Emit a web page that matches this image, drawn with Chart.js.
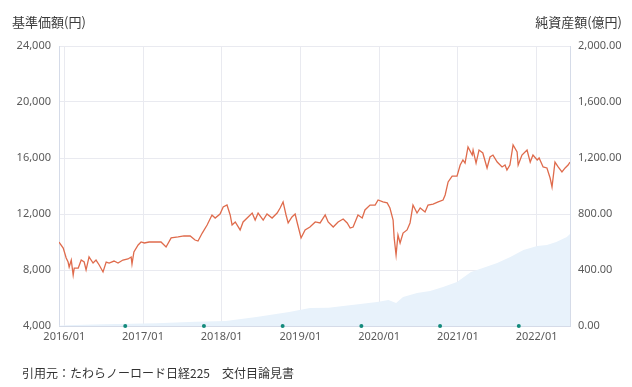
<!DOCTYPE html>
<html>
<head>
<meta charset="utf-8">
<script src="https://cdn.jsdelivr.net/npm/chart.js@4/dist/chart.umd.min.js"></script>
<style>
  html, body { margin: 0; padding: 0; background: #fff; }
  #wrap { position: relative; width: 632px; height: 387px; }
  #source {
    position: absolute; left: 22px; top: 364px;
    font: 12px "Noto Sans CJK JP", sans-serif; color: #333; white-space: pre;
  }
</style>
</head>
<body>
<div id="wrap">
  <canvas id="chart" width="632" height="387"></canvas>
  <div id="source">引用元：たわらノーロード日経225　交付目論見書</div>
</div>
<script>
// 基準価額 (円)
const priceDates = [
  '2015/12/07','2015/12/27','2016/01/10','2016/01/19','2016/01/24','2016/02/03','2016/02/12','2016/02/17',
  '2016/03/05','2016/03/19','2016/04/02','2016/04/11','2016/04/25','2016/05/13','2016/05/27','2016/06/11',
  '2016/06/29','2016/07/13','2016/07/27','2016/08/19','2016/09/07','2016/09/30','2016/10/23','2016/11/07',
  '2016/11/11','2016/11/20','2016/12/09','2016/12/23','2017/01/07','2017/01/30','2017/03/01','2017/03/24',
  '2017/04/17','2017/05/10','2017/06/12','2017/07/09','2017/08/07','2017/08/30','2017/09/13','2017/10/02',
  '2017/10/25','2017/11/17','2017/12/01','2017/12/24','2018/01/08','2018/01/26','2018/02/10','2018/02/19',
  '2018/03/03','2018/03/26','2018/04/09','2018/05/02','2018/05/21','2018/06/04','2018/06/18','2018/07/11',
  '2018/07/29','2018/08/22','2018/09/15','2018/09/29','2018/10/12','2018/10/26','2018/11/05','2018/11/23',
  '2018/12/07','2018/12/16','2019/01/04','2019/01/23','2019/02/15','2019/03/09','2019/04/01','2019/04/25',
  '2019/05/08','2019/06/01','2019/06/24','2019/07/17','2019/08/05','2019/08/19','2019/09/02','2019/09/25',
  '2019/10/14','2019/10/27','2019/11/20','2019/12/13','2019/12/27','2020/01/19','2020/02/08','2020/02/21',
  '2020/03/05','2020/03/10','2020/03/19','2020/03/28','2020/04/07','2020/04/21','2020/05/09','2020/05/23',
  '2020/06/06','2020/06/25','2020/07/09','2020/08/01','2020/08/15','2020/09/08','2020/10/01','2020/10/24',
  '2020/11/03','2020/11/17','2020/12/05','2020/12/28','2021/01/12','2021/01/25','2021/02/04','2021/02/18',
  '2021/03/07','2021/03/11','2021/03/25','2021/04/08','2021/04/26','2021/05/15','2021/05/29','2021/06/12',
  '2021/07/01','2021/07/24','2021/08/07','2021/08/16','2021/08/30','2021/09/14','2021/10/02','2021/10/07',
  '2021/10/25','2021/11/18','2021/12/02','2021/12/15','2022/01/04','2022/01/13','2022/02/01','2022/02/19',
  '2022/03/03','2022/03/12','2022/03/26','2022/04/10','2022/04/28','2022/05/12','2022/05/26','2022/06/04'
];
const priceValues = [
  10000, 9570, 8860, 8570, 8210, 8710, 7640, 8140,
  8140, 8710, 8570, 8000, 8930, 8500, 8710, 8360,
  7860, 8570, 8500, 8640, 8500, 8710, 8790, 8930,
  8430, 9290, 9790, 10000, 9930, 10000, 10000, 10000,
  9640, 10290, 10360, 10430, 10430, 10140, 10070, 10640,
  11210, 11930, 11710, 12000, 12500, 12640, 11930, 11210,
  11430, 10860, 11430, 11790, 12070, 11570, 12070, 11570,
  12000, 11710, 12070, 12430, 12860, 11930, 11360, 11790,
  12000, 11430, 10290, 10860, 11070, 11430, 11360, 11930,
  11430, 11070, 11430, 11640, 11360, 11000, 11070, 11930,
  11710, 12290, 12640, 12640, 13000, 12860, 12790, 12430,
  11570, 10290, 9070, 10500, 9930, 10640, 10860, 11360,
  12640, 12070, 12430, 12140, 12640, 12710, 12860, 13000,
  13360, 14290, 14710, 14710, 15500, 15860, 15640, 16790,
  16210, 16570, 15640, 16570, 16360, 15290, 16070, 16210,
  15710, 15360, 15500, 15140, 15500, 16930, 16430, 15500,
  16210, 16570, 15710, 16210, 15860, 16000, 15360, 15290,
  14570, 13930, 15710, 15360, 15000, 15290, 15500, 15700
];

// 純資産額 (億円)
const assetDates = [
  '2015/12/07','2016/01/10','2016/07/01','2017/03/01','2017/09/01','2018/01/20','2018/06/10','2018/11/10',
  '2019/02/15','2019/05/10','2019/07/17','2019/10/05','2019/12/22','2020/02/14','2020/03/19','2020/04/21',
  '2020/06/25','2020/08/25','2020/10/24','2020/12/28','2021/03/01','2021/04/26','2021/07/01','2021/09/01',
  '2021/11/01','2022/01/04','2022/02/19','2022/04/01','2022/05/20','2022/06/04'
];
const assetValues = [
  2, 5, 12, 20, 30, 36, 65, 100,
  129, 130, 143, 157, 171, 186, 164, 207,
  236, 250, 279, 314, 386, 414, 450, 493,
  543, 571, 579, 600, 636, 657
];

// 決算日
const settleDates = ['2016/10/10','2017/10/10','2018/10/10','2019/10/10','2020/10/10','2021/10/10'];

const yearTicks = ['2016/01','2017/01','2018/01','2019/01','2020/01','2021/01','2022/01'];

function toMonths(s) {
  const p = s.split('/').map(Number);
  return (p[0] - 2016) * 12 + (p[1] - 1) + ((p[2] || 1) - 1) / 31;
}

const priceData = priceDates.map((d, i) => ({ x: toMonths(d), y: priceValues[i] }));
const assetData = assetDates.map((d, i) => ({ x: toMonths(d), y: assetValues[i] }));
const settleData = settleDates.map(d => ({ x: toMonths(d), y: 4000 }));

const tickFont = { family: '"Noto Sans", sans-serif', size: 11 };

const titlePlugin = {
  id: 'axisTitles',
  afterDraw(chart) {
    const c = chart.ctx;
    c.save();
    c.font = '13px "Noto Sans CJK JP", sans-serif';
    c.fillStyle = '#3a3a3a';
    c.textBaseline = 'middle';
    c.textAlign = 'left';
    c.fillText('基準価額(円)', 12, 22);
    c.textAlign = 'right';
    c.fillText('純資産額(億円)', 622, 22);
    c.restore();
  }
};

new Chart(document.getElementById('chart'), {
  type: 'line',
  data: {
    datasets: [
      {
        label: '決算日',
        data: settleData,
        showLine: false,
        pointRadius: 2,
        pointBackgroundColor: '#138a7c',
        pointBorderWidth: 0,
        clip: false,
        order: 0
      },
      {
        label: '基準価額',
        data: priceData,
        borderColor: '#df6b4c',
        borderWidth: 1.3,
        pointRadius: 0,
        tension: 0,
        order: 1
      },
      {
        label: '純資産額',
        data: assetData,
        yAxisID: 'y1',
        fill: 'origin',
        backgroundColor: '#e8f2fb',
        borderWidth: 0,
        pointRadius: 0,
        tension: 0,
        order: 2
      }
    ]
  },
  plugins: [titlePlugin],
  options: {
    responsive: false,
    animation: false,
    layout: { padding: { top: 46, left: 0, right: 0, bottom: 0 } },
    plugins: { legend: { display: false }, tooltip: { enabled: false } },
    scales: {
      x: {
        type: 'linear',
        min: toMonths(priceDates[0]),
        max: toMonths(priceDates[priceDates.length - 1]),
        afterBuildTicks: s => { s.ticks = yearTicks.map(t => ({ value: toMonths(t) })); },
        afterFit: s => { s.height = 61; },
        ticks: {
          padding: 4,
          font: tickFont,
          color: '#5a5a5a',
          maxRotation: 0,
          callback: v => {
            const y = 2016 + Math.round(v / 12);
            return y + '/01';
          }
        },
        grid: { color: '#e9eaf0', drawTicks: false },
        border: { color: '#d5dbe8' }
      },
      y: {
        position: 'left',
        min: 4000,
        max: 24000,
        ticks: {
          stepSize: 4000,
          padding: 8,
          font: tickFont,
          color: '#5a5a5a',
          callback: v => v.toLocaleString('en-US')
        },
        afterFit: s => { s.width = 59; },
        grid: { color: '#e9eaf0', drawTicks: false },
        border: { color: '#d5dbe8' }
      },
      y1: {
        position: 'right',
        min: 0,
        max: 2000,
        ticks: {
          stepSize: 400,
          padding: 8,
          font: tickFont,
          color: '#5a5a5a',
          callback: v => v.toLocaleString('en-US', { minimumFractionDigits: 2, maximumFractionDigits: 2 })
        },
        afterFit: s => { s.width = 62; },
        grid: { display: false, drawTicks: false },
        border: { color: '#d5dbe8' }
      }
    }
  }
});
</script>
</body>
</html>
